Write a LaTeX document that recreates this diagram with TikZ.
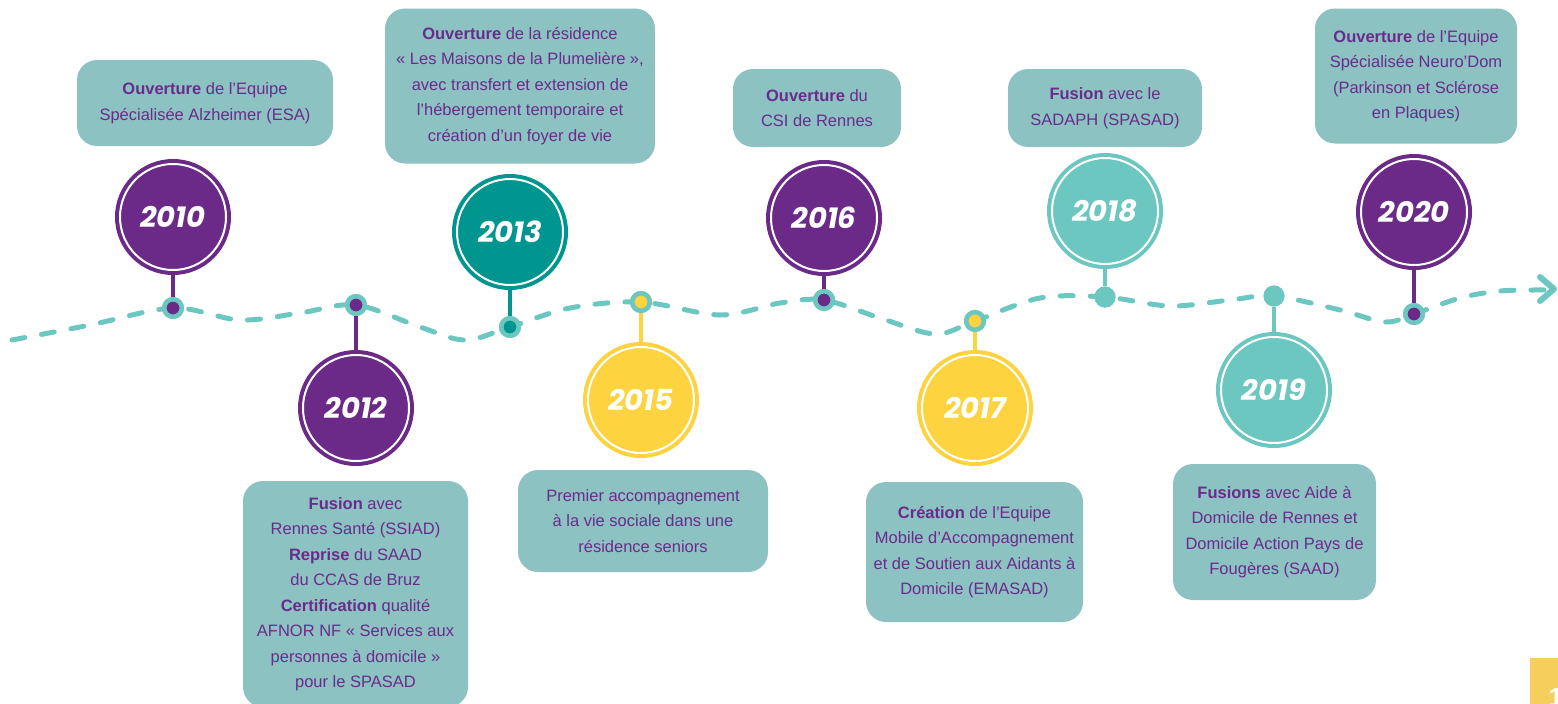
\documentclass[tikz,border=0pt]{standalone}
\usepackage{fontspec}
\setmainfont{Liberation Sans}
\newfontfamily\yearfont{Poppins}
\definecolor{vpurple}{HTML}{6B2A87}
\definecolor{dteal}{HTML}{00968F}
\definecolor{lteal}{HTML}{6DC7C1}
\definecolor{vyellow}{HTML}{FDD33F}
\definecolor{boxfill}{HTML}{8CC2C1}
\definecolor{txtpurple}{HTML}{6A2C8C}
\definecolor{pageyellow}{HTML}{F6CE5C}
\tikzset{
  yearc/.style={circle, minimum size=116pt, inner sep=0pt, fill=#1, text=white,
    font=\yearfont\bfseries\itshape\fontsize{29}{30}\selectfont},
  ring/.style={white, line width=2pt},
  stem/.style={draw=#1, line width=4pt},
  ringdot/.style={circle, draw=lteal, line width=4.5pt, fill=#1, minimum size=17.5pt, inner sep=0pt},
  plaindot/.style={circle, fill=lteal, minimum size=21pt, inner sep=0pt},
  infobox/.style={rounded corners=20pt, fill=boxfill, text=txtpurple, align=center,
    inner sep=0pt, font=\fontsize{16.5}{25.5}\selectfont},
  track/.style={lteal, line width=5pt, line cap=round, dash pattern=on 13pt off 17pt},
}
\newcommand{\hl}[1]{\textbf{#1}}
\begin{document}
\begin{tikzpicture}[x=1pt,y=-1pt]
\useasboundingbox (0,0) rectangle (1558,704);
\clip (0,0) rectangle (1558,704);

% dashed timeline
\draw[track] plot[smooth, tension=0.55] coordinates {
 (12,340) (90,325) (173,308) (240,320) (300,313) (356,305) (420,327) (465,340) (510,327)
 (570,308) (641,302) (720,315) (780,303) (824,300) (880,318) (935,334) (975,321)
 (1040,298) (1105,297) (1170,306) (1230,300) (1274,296) (1340,310) (1385,322) (1414,314)
 (1460,298) (1500,291) (1545,290)};
\coordinate (atop) at (1540,277);
\coordinate (atip) at (1554,289);
\coordinate (abot) at (1540,301);
\draw[lteal, line width=6pt, line cap=round, line join=round] (atop) -- (atip) -- (abot);

% dots
\node[ringdot=vpurple] (d10) at (173,308) {};
\node[ringdot=vpurple] (d12) at (356,305) {};
\node[ringdot=dteal]   (d13) at (510,327) {};
\node[ringdot=vyellow] (d15) at (641,302) {};
\node[ringdot=vpurple] (d16) at (824,300) {};
\node[ringdot=vyellow] (d17) at (975,321) {};
\node[plaindot]        (d18) at (1105,297) {};
\node[plaindot]        (d19) at (1274,296) {};
\node[ringdot=vpurple] (d20) at (1414,314) {};

% year circles
\node[yearc=vpurple] (y10) at (173,217) {2010};
\node[yearc=vpurple] (y12) at (356,408) {2012};
\node[yearc=dteal]   (y13) at (510,232) {2013};
\node[yearc=vyellow] (y15) at (641,400) {2015};
\node[yearc=vpurple] (y16) at (824,218) {2016};
\node[yearc=vyellow] (y17) at (975,408) {2017};
\node[yearc=lteal]   (y18) at (1105,211) {2018};
\node[yearc=lteal]   (y19) at (1274,390) {2019};
\node[yearc=vpurple] (y20) at (1414,212) {2020};

% stems and white rings
\foreach \a/\c in {10/vpurple,12/vpurple,13/dteal,15/vyellow,16/vpurple,17/vyellow,18/lteal,19/lteal,20/vpurple}{
  \draw[stem=\c] (y\a) -- (d\a);
  \draw[ring] (y\a.center) circle[radius=53pt];
}
% dots over stems
\foreach \a/\c in {10/vpurple,12/vpurple,13/dteal,15/vyellow,16/vpurple,17/vyellow,20/vpurple}{
  \node[ringdot=\c] at (d\a) {};
}
\node[plaindot] at (d18) {};
\node[plaindot] at (d19) {};

% info boxes
\node[infobox, minimum width=256pt, minimum height=86pt] (b10) at (205,103)
  {\hl{Ouverture} de l’Equipe\\Spécialisée Alzheimer (ESA)};
\node[infobox, minimum width=270pt, minimum height=155pt] (b13) at (520,86)
  {\hl{Ouverture} de la résidence\\«~Les Maisons de la Plumelière~»,\\avec transfert et extension de\\l’hébergement temporaire et\\création d’un foyer de vie};
\node[infobox, minimum width=168pt, minimum height=78pt] (b16) at (817,108)
  {\hl{Ouverture} du\\CSI de Rennes};
\node[infobox, minimum width=194pt, minimum height=78pt] (b18) at (1105,108)
  {\hl{Fusion} avec le\\SADAPH (SPASAD)};
\node[infobox, minimum width=202pt, minimum height=135pt] (b20) at (1416,76)
  {\hl{Ouverture} de l’Equipe\\Spécialisée Neuro’Dom\\(Parkinson et Sclérose\\en Plaques)};
\node[infobox, minimum width=225pt, minimum height=226pt] (b12) at (355.5,594)
  {\hl{Fusion} avec\\Rennes Santé (SSIAD)\\\hl{Reprise} du SAAD\\du CCAS de Bruz\\\hl{Certification} qualité\\AFNOR NF «~Services aux\\personnes à domicile~»\\pour le SPASAD};
\node[infobox, minimum width=250pt, minimum height=102pt] (b15) at (643,521)
  {Premier accompagnement\\à la vie sociale dans une\\résidence seniors};
\node[infobox, minimum width=217pt, minimum height=140pt] (b17) at (974.5,552)
  {\hl{Création} de l’Equipe\\Mobile d’Accompagnement\\et de Soutien aux Aidants à\\Domicile (EMASAD)};
\node[infobox, minimum width=203pt, minimum height=136pt] (b19) at (1274.5,532)
  {\hl{Fusions} avec Aide à\\Domicile de Rennes et\\Domicile Action Pays de\\Fougères (SAAD)};

% page number tab
\node[fill=pageyellow, minimum width=28pt, minimum height=50pt, inner sep=0pt, anchor=north west] (pg) at (1530,658) {};
\node[text=white, font=\bfseries\fontsize{26}{26}\selectfont, anchor=base west] (pgn) at (1545,706) {1};
\end{tikzpicture}
\end{document}
